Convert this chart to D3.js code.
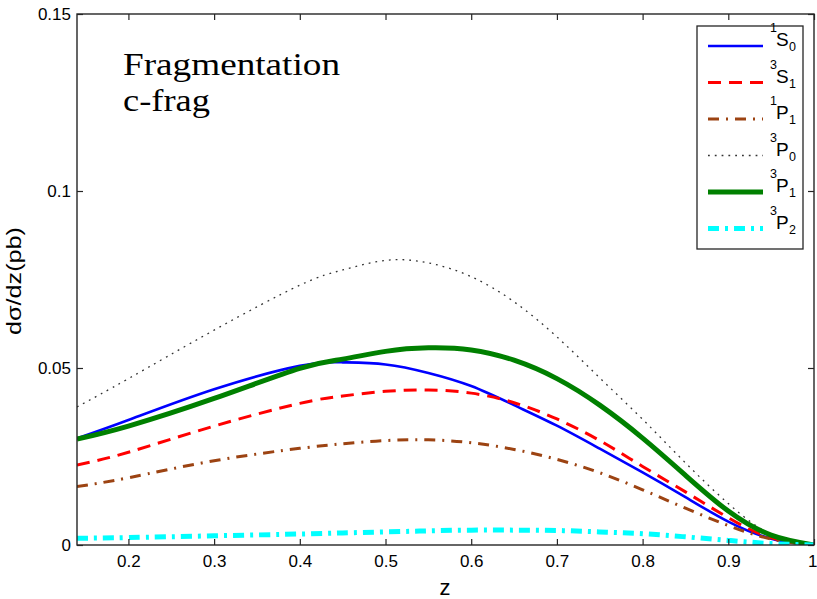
<!DOCTYPE html>
<html>
<head>
<meta charset="utf-8">
<script src="https://cdn.jsdelivr.net/npm/d3@7"></script>
<style>
  html, body { margin: 0; padding: 0; background: #fff; }
  svg { display: block; }
  text { font-family: "Liberation Sans", Arial, Helvetica, sans-serif; fill: #000; }
</style>
</head>
<body>
<svg id="chart" width="817" height="599"></svg>
<script>
// Fragmentation contribution dσ/dz (pb) versus z, per intermediate state
const zValues = [0.14, 0.2, 0.3, 0.4, 0.45, 0.5, 0.55, 0.6, 0.65, 0.7, 0.75, 0.8, 0.85, 0.9, 0.95, 1.0];

const s1S0 = [0.0301, 0.0353, 0.0440, 0.0506, 0.0516, 0.0510, 0.0486, 0.0449, 0.0395, 0.0337, 0.0272, 0.0205, 0.0135, 0.0066, 0.0018, 0];
const s3S1 = [0.0226, 0.0262, 0.0336, 0.0400, 0.0421, 0.0434, 0.0438, 0.0429, 0.0402, 0.0356, 0.0295, 0.0222, 0.0150, 0.0077, 0.0020, 0];
const s1P1 = [0.0165, 0.0190, 0.0238, 0.0273, 0.0286, 0.0295, 0.0297, 0.0289, 0.0270, 0.0242, 0.0204, 0.0156, 0.0104, 0.0055, 0.0017, 0];
const s3P0 = [0.0390, 0.0470, 0.0607, 0.0734, 0.0777, 0.0804, 0.0797, 0.0758, 0.0687, 0.0588, 0.0472, 0.0355, 0.0232, 0.0117, 0.0030, 0];
const s3P1 = [0.0299, 0.0336, 0.0414, 0.0499, 0.0525, 0.0547, 0.0557, 0.0551, 0.0522, 0.0470, 0.0395, 0.0302, 0.0197, 0.0096, 0.0028, 0];
const s3P2 = [0.0019, 0.0021, 0.0026, 0.0031, 0.0034, 0.0037, 0.0040, 0.0042, 0.0042, 0.0041, 0.0037, 0.0032, 0.0023, 0.0013, 0.0004, 0];

const xTicks = [0.2, 0.3, 0.4, 0.5, 0.6, 0.7, 0.8, 0.9, 1];
const xTickLabels = ["0.2", "0.3", "0.4", "0.5", "0.6", "0.7", "0.8", "0.9", "1"];
const yTicks = [0, 0.05, 0.1, 0.15];
const yTickLabels = ["0", "0.05", "0.1", "0.15"];

// state label parts: superscript, letter, subscript
const seriesSup = ["1", "3", "1", "3", "3", "3"];
const seriesLetter = ["S", "S", "P", "P", "P", "P"];
const seriesSub = ["0", "1", "1", "0", "1", "2"];

const series = [
  { values: s1S0, color: "#0000ff", width: 2.6, dash: null },
  { values: s3S1, color: "#ff0000", width: 3, dash: "13,8" },
  { values: s1P1, color: "#9c4312", width: 3, dash: "11,7,2,7" },
  { values: s3P0, color: "#333333", width: 1.3, dash: "1.8,5" },
  { values: s3P1, color: "#008000", width: 5, dash: null },
  { values: s3P2, color: "#00ffff", width: 5, dash: "11,6,3,6" }
];

const svg = d3.select("#chart");
const plot = { left: 77, right: 814, top: 14, bottom: 545 };

const x = d3.scaleLinear().domain([0.14, 1]).range([plot.left, plot.right]);
const y = d3.scaleLinear().domain([0, 0.15]).range([plot.bottom, plot.top]);

const axisColor = "#262626";

// curves, clipped to the axes box
svg.append("clipPath").attr("id", "plotClip")
  .append("rect")
  .attr("x", plot.left).attr("y", plot.top)
  .attr("width", plot.right - plot.left).attr("height", plot.bottom - plot.top);

const line = d3.line()
  .x(d => x(d[0]))
  .y(d => y(d[1]))
  .curve(d3.curveNatural);

const curves = svg.append("g").attr("clip-path", "url(#plotClip)");
series.forEach(s => {
  const pts = zValues.map((z, i) => [z, s.values[i]]);
  curves.append("path")
    .attr("d", line(pts))
    .attr("fill", "none")
    .attr("stroke", s.color)
    .attr("stroke-width", s.width)
    .attr("stroke-dasharray", s.dash)
    .attr("stroke-linejoin", "round");
});

// axes with inward ticks on all four sides
const fmtX = d => xTickLabels[xTicks.indexOf(d)];
const fmtY = d => yTickLabels[yTicks.indexOf(d)];

const gx = svg.append("g").attr("transform", `translate(0,${plot.bottom})`)
  .call(d3.axisBottom(x).tickValues(xTicks).tickFormat(fmtX).tickSize(-6).tickPadding(10));
const gxTop = svg.append("g").attr("transform", `translate(0,${plot.top})`)
  .call(d3.axisTop(x).tickValues(xTicks).tickFormat("").tickSize(-6));
const gy = svg.append("g").attr("transform", `translate(${plot.left},0)`)
  .call(d3.axisLeft(y).tickValues(yTicks).tickFormat(fmtY).tickSize(-6).tickPadding(6));
const gyRight = svg.append("g").attr("transform", `translate(${plot.right},0)`)
  .call(d3.axisRight(y).tickValues(yTicks).tickFormat("").tickSize(-6));

[gx, gxTop, gy, gyRight].forEach(g => {
  g.select(".domain").remove();
  g.selectAll(".tick line").attr("stroke", axisColor).attr("stroke-width", 1.2);
  g.selectAll(".tick text")
    .attr("fill", "#000")
    .style("font-family", "'Liberation Sans', Arial, sans-serif")
    .style("font-size", "17px");
});
// keep the last x label inside the page edge
gx.selectAll(".tick text").filter(d => d === 1).attr("text-anchor", "end").attr("x", 3);

svg.append("rect")
  .attr("x", plot.left).attr("y", plot.top)
  .attr("width", plot.right - plot.left).attr("height", plot.bottom - plot.top)
  .attr("fill", "none").attr("stroke", axisColor).attr("stroke-width", 1.4);

// axis titles
svg.append("text")
  .attr("x", 445).attr("y", 595)
  .attr("text-anchor", "middle")
  .style("font-size", "22px")
  .text("z");

svg.append("text")
  .attr("transform", "translate(21,281) rotate(-90)")
  .attr("text-anchor", "middle")
  .attr("textLength", 108)
  .attr("lengthAdjust", "spacingAndGlyphs")
  .style("font-size", "21px")
  .text("dσ/dz(pb)");

// annotation
const note = svg.append("g").style("font-family", "'Liberation Serif', 'Times New Roman', serif");
note.append("text")
  .attr("x", 123).attr("y", 75)
  .attr("textLength", 217).attr("lengthAdjust", "spacingAndGlyphs")
  .style("font-family", "inherit").style("font-size", "31px")
  .text("Fragmentation");
note.append("text")
  .attr("x", 123).attr("y", 111)
  .attr("textLength", 87).attr("lengthAdjust", "spacingAndGlyphs")
  .style("font-family", "inherit").style("font-size", "31px")
  .text("c-frag");

// legend
const legend = svg.append("g");
legend.append("rect")
  .attr("x", 697).attr("y", 26).attr("width", 106).attr("height", 223)
  .attr("fill", "#fff").attr("stroke", axisColor).attr("stroke-width", 1.3);

series.forEach((s, i) => {
  const ly = 46 + i * 36.5;
  legend.append("line")
    .attr("x1", 708).attr("x2", 763).attr("y1", ly).attr("y2", ly)
    .attr("stroke", s.color)
    .attr("stroke-width", s.width)
    .attr("stroke-dasharray", s.dash);
  legend.append("text").attr("x", 770).attr("y", ly - 14)
    .style("font-size", "12.5px").text(seriesSup[i]);
  legend.append("text").attr("x", 776).attr("y", ly)
    .style("font-size", "19px").text(seriesLetter[i]);
  legend.append("text").attr("x", 789).attr("y", ly + 5)
    .style("font-size", "12.5px").text(seriesSub[i]);
});
</script>
</body>
</html>
